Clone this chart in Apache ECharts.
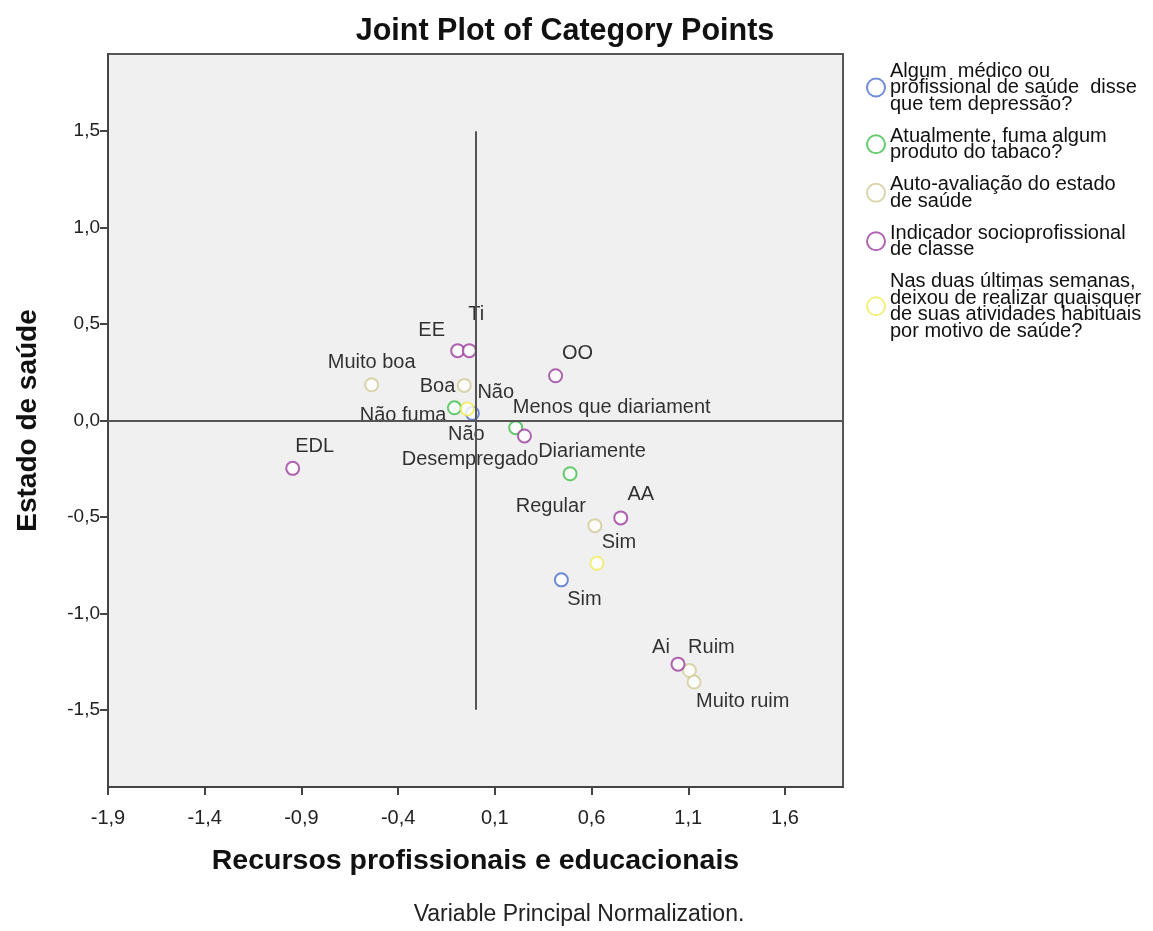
<!DOCTYPE html>
<html>
<head>
<meta charset="utf-8">
<script src="https://cdn.jsdelivr.net/npm/echarts@6/dist/echarts.min.js"></script>
<style>html,body{margin:0;padding:0;background:#fff}#c{width:1153px;height:931px}</style>
</head>
<body>
<div id="c"></div>
<script>
// ---- data ----
const groupNames = [
  'Algum  médico ou\nprofissional de saúde  disse\nque tem depressão?',
  'Atualmente, fuma algum\nproduto do tabaco?',
  'Auto-avaliação do estado\nde saúde',
  'Indicador socioprofissional\nde classe',
  'Nas duas últimas semanas,\ndeixou de realizar quaisquer\nde suas atividades habituais\npor motivo de saúde?'
];
const depressaoLabels = ['Não', 'Sim'];
const depressaoX = [-0.016, 0.444];
const depressaoY = [0.037, -0.826];

const fumaLabels = ['Não fuma', 'Menos que diariament', 'Diariamente'];
const fumaX = [-0.109, 0.208, 0.489];
const fumaY = [0.066, -0.037, -0.276];

const saudeLabels = ['Muito boa', 'Boa', 'Regular', 'Ruim', 'Muito ruim'];
const saudeX = [-0.537, -0.058, 0.617, 1.106, 1.130];
const saudeY = [0.185, 0.182, -0.545, -1.296, -1.356];

const classeLabels = ['EDL', 'EE', 'Ti', 'OO', 'Desempregado', 'AA', 'Ai'];
const classeX = [-0.945, -0.092, -0.032, 0.414, 0.253, 0.751, 1.047];
const classeY = [-0.248, 0.362, 0.362, 0.232, -0.080, -0.505, -1.263];

const atividadesLabels = ['Não', 'Sim'];
const atividadesX = [-0.042, 0.628];
const atividadesY = [0.060, -0.740];

const xTicks = [-1.9, -1.4, -0.9, -0.4, 0.1, 0.6, 1.1, 1.6];
const yTicks = [-1.5, -1.0, -0.5, 0.0, 0.5, 1.0, 1.5];

// ---- layout of point labels (align, dx, dy) ----
const labelLayout = [
  [['left', 5, -21], ['center', 23, 20]],
  [['right', -8, 8], ['left', -3, -20], ['center', 22, -22]],
  [['center', 0, -22], ['right', -9, 1], ['right', -9, -19], ['center', 22, -23], ['left', 2, 19]],
  [['center', 22, -22], ['center', -26, -20], ['center', 7, -36], ['center', 22, -22], ['right', 14, 24], ['center', 20, -23], ['center', -17, -17]],
  [['center', -1, 26], ['center', 22, -21]]
];
const colors = ['#4f6fcf', '#3fbf4a', '#d2cb96', '#9c3c9e', '#f1ec5c'];

const groups = [
  [depressaoLabels, depressaoX, depressaoY],
  [fumaLabels, fumaX, fumaY],
  [saudeLabels, saudeX, saudeY],
  [classeLabels, classeX, classeY],
  [atividadesLabels, atividadesX, atividadesY]
];

const FONT = '"Liberation Sans", Arial, sans-serif';
const fmt = v => (Math.round(v * 10) / 10).toFixed(1).replace('.', ',');

const series = groups.map((g, gi) => ({
  type: 'scatter',
  name: groupNames[gi],
  symbol: 'emptyCircle',
  symbolSize: 13,
  itemStyle: { color: colors[gi], borderColor: colors[gi], borderWidth: 1.8 },
  z: 3,
  data: g[0].map((lab, i) => {
    const L = labelLayout[gi][i];
    return {
      name: lab,
      value: [g[1][i], g[2][i]],
      label: { align: L[0], offset: [L[1], L[2]] }
    };
  }),
  label: {
    show: true, position: 'inside', verticalAlign: 'middle',
    formatter: p => p.name, color: '#000', fontFamily: FONT, fontSize: 20
  },
  emphasis: { disabled: true }
}));

// reference lines
series.push({
  type: 'line', data: [], silent: true,
  markLine: {
    silent: true, symbol: 'none', animation: false,
    lineStyle: { color: '#555', width: 2, type: 'solid' },
    label: { show: false },
    data: [
      { yAxis: 0 },
      [{ coord: [0, -1.5] }, { coord: [0, 1.5] }]
    ]
  }
});

const chart = echarts.init(document.getElementById('c'), null, { renderer: 'canvas' });
chart.setOption({
  animation: false,
  backgroundColor: '#ffffff',
  title: {
    text: 'Joint Plot of Category Points',
    left: 560, top: 11, textAlign: 'center',
    textStyle: { fontFamily: FONT, fontWeight: 'bold', fontSize: 30.5, color: '#111' }
  },
  grid: {
    left: 108, right: 310, top: 54, bottom: 144,
    show: true, backgroundColor: '#f0f0f0', borderColor: '#555', borderWidth: 2
  },
  legend: {
    orient: 'vertical', left: 861, top: 56,
    itemWidth: 18, itemHeight: 18, itemGap: 12,
    data: groupNames.map((n, i) => ({
      name: n, icon: 'emptyCircle',
      itemStyle: { color: colors[i], borderColor: colors[i], borderWidth: 1.8 }
    })),
    textStyle: { fontFamily: FONT, fontSize: 20, lineHeight: 16.5, color: '#111' },
    selectedMode: false
  },
  xAxis: {
    type: 'value', min: -1.9, max: 1.9,
    splitLine: { show: false },
    axisLine: { show: true, onZero: false, lineStyle: { color: '#444', width: 2 } },
    axisTick: { show: true, length: 8, customValues: xTicks, lineStyle: { color: '#444', width: 2 } },
    axisLabel: { customValues: xTicks, formatter: v => fmt(v), fontFamily: FONT, fontSize: 20, color: '#222', margin: 21 },
    name: 'Recursos profissionais e educacionais',
    nameLocation: 'middle', nameGap: 60,
    nameTextStyle: { fontFamily: FONT, fontWeight: 'bold', fontSize: 28.5, color: '#111' }
  },
  yAxis: {
    type: 'value', min: -1.9, max: 1.9,
    splitLine: { show: false },
    axisLine: { show: true, onZero: false, lineStyle: { color: '#444', width: 2 } },
    axisTick: { show: true, length: 8, customValues: yTicks, lineStyle: { color: '#444', width: 2 } },
    axisLabel: { customValues: yTicks, formatter: v => fmt(v), fontFamily: FONT, fontSize: 19, color: '#222', margin: 8 },
    name: 'Estado de saúde',
    nameLocation: 'middle', nameGap: 66,
    nameTextStyle: { fontFamily: FONT, fontWeight: 'bold', fontSize: 28, color: '#111' }
  },
  graphic: [{
    type: 'text', x: 579, y: 915,
    style: {
      text: 'Variable Principal Normalization.', fill: '#222',
      font: '23px "Liberation Sans", Arial, sans-serif', textAlign: 'center', textVerticalAlign: 'middle'
    }
  }],
  series: series
});
</script>
</body>
</html>
